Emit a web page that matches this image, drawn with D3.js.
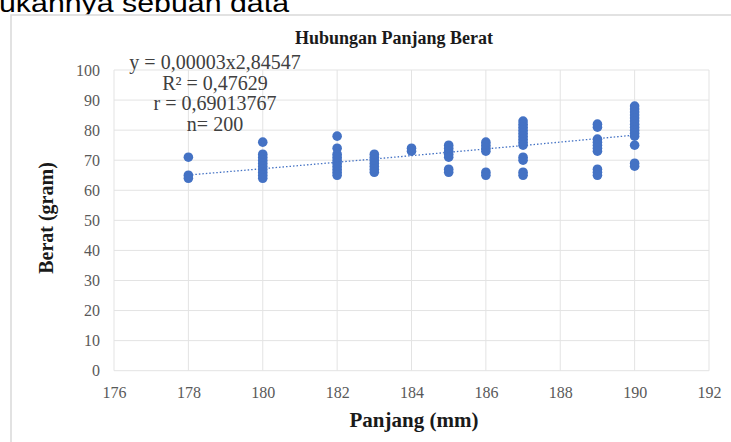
<!DOCTYPE html>
<html><head><meta charset="utf-8">
<script src="https://cdn.jsdelivr.net/npm/d3@7/dist/d3.min.js"></script>
<style>body{margin:0;background:#fff;overflow:hidden}svg{display:block}</style>
</head><body>
<script>
const xCategories = [178,180,182,183,184,185,186,187,189,190];
const weightsByLength = [
  [71,65,64],
  [76,72,71,70,69,68,67,66,65,64],
  [78,74,72,71,70,69,68,67,66,65],
  [72,71,70,69,68,67,66],
  [74,73],
  [75,74,73,72,71,67,66],
  [76,75,74,73,66,65],
  [83,82,81,80,79,78,77,76,75,71,70,66,65],
  [82,81,77,76,75,74,73,67,66,65],
  [88,87,86,85,84,83,82,81,80,79,78,75,69,68]
];
const xTicks = [176,178,180,182,184,186,188,190,192];
const yTicks = [0,10,20,30,40,50,60,70,80,90,100];
const trendCoef = [0.0000257, 2.84547];
const annotations = ["y = 0,00003x2,84547","R² = 0,47629","r = 0,69013767","n= 200"];

const W=731,H=442;
const svg=d3.select("body").append("svg").attr("width",W).attr("height",H);
const serif="'Liberation Serif','Times New Roman',serif";

// page text above chart
svg.append("text").attr("x",-1).attr("y",12).attr("font-family","'Liberation Sans',Arial,sans-serif")
  .attr("font-size",26).attr("fill","#000").attr("textLength",290).attr("lengthAdjust","spacingAndGlyphs")
  .text("ukannya sebuah data");

// chart frame
svg.append("rect").attr("x",11).attr("y",15).attr("width",W-11+5).attr("height",H-15+5)
  .attr("fill","#fff").attr("stroke","#d9d9d9").attr("stroke-width",1.5);

const x=d3.scaleLinear().domain([176,192]).range([114,709]);
const y=d3.scaleLinear().domain([0,100]).range([370.7,70]);

// gridlines
svg.append("g").selectAll("line").data(yTicks).join("line")
  .attr("x1",x(176)).attr("x2",x(192)).attr("y1",d=>y(d)).attr("y2",d=>y(d))
  .attr("stroke","#e3e3e3").attr("stroke-width",1);
svg.append("g").selectAll("line").data(xTicks).join("line")
  .attr("y1",y(0)).attr("y2",y(100)).attr("x1",d=>x(d)).attr("x2",d=>x(d))
  .attr("stroke","#e3e3e3").attr("stroke-width",1);

// axes (labels only)
const xa=svg.append("g").attr("transform",`translate(0,${y(0)})`)
  .call(d3.axisBottom(x).tickValues(xTicks).tickSize(0).tickPadding(16).tickFormat(d3.format("d")));
const ya=svg.append("g").attr("transform",`translate(${x(176)},0)`)
  .call(d3.axisLeft(y).tickValues(yTicks).tickSize(0).tickPadding(14));
[xa,ya].forEach(g=>{g.select(".domain").remove();
  g.selectAll("text").attr("font-family",serif).attr("font-size",16).attr("fill","#595959");});

// points
const pts=[];
xCategories.forEach((c,i)=>weightsByLength[i].forEach(v=>pts.push([c,v])));
svg.append("g").selectAll("circle").data(pts).join("circle")
  .attr("cx",d=>x(d[0])).attr("cy",d=>y(d[1])).attr("r",4.8).attr("fill","#4472c4");

// trendline (power)
const tx=d3.range(178,190.01,0.25);
svg.append("path").datum(tx).attr("fill","none").attr("stroke","#4472c4").attr("stroke-width",1.3)
  .attr("stroke-dasharray","1.5,2")
  .attr("d",d3.line().x(d=>x(d)).y(d=>y(trendCoef[0]*Math.pow(d,trendCoef[1]))));

// title
svg.append("text").attr("x",394).attr("y",44).attr("text-anchor","middle")
  .attr("font-family",serif).attr("font-weight","bold").attr("font-size",18).attr("fill","#1a1a1a")
  .text("Hubungan Panjang Berat");

// annotation
const ann=svg.append("text").attr("font-family",serif).attr("font-size",20).attr("fill","#404040")
  .attr("text-anchor","middle");
annotations.forEach((t,i)=>ann.append("tspan").attr("x",215).attr("y",69+i*20.7).text(t));

// axis titles
svg.append("text").attr("x",414).attr("y",427).attr("text-anchor","middle")
  .attr("font-family",serif).attr("font-weight","bold").attr("font-size",21).attr("fill","#1a1a1a")
  .text("Panjang (mm)");
svg.append("text").attr("transform","translate(53,218) rotate(-90)").attr("text-anchor","middle")
  .attr("font-family",serif).attr("font-weight","bold").attr("font-size",20).attr("fill","#1a1a1a")
  .text("Berat (gram)");
</script>
</body></html>
